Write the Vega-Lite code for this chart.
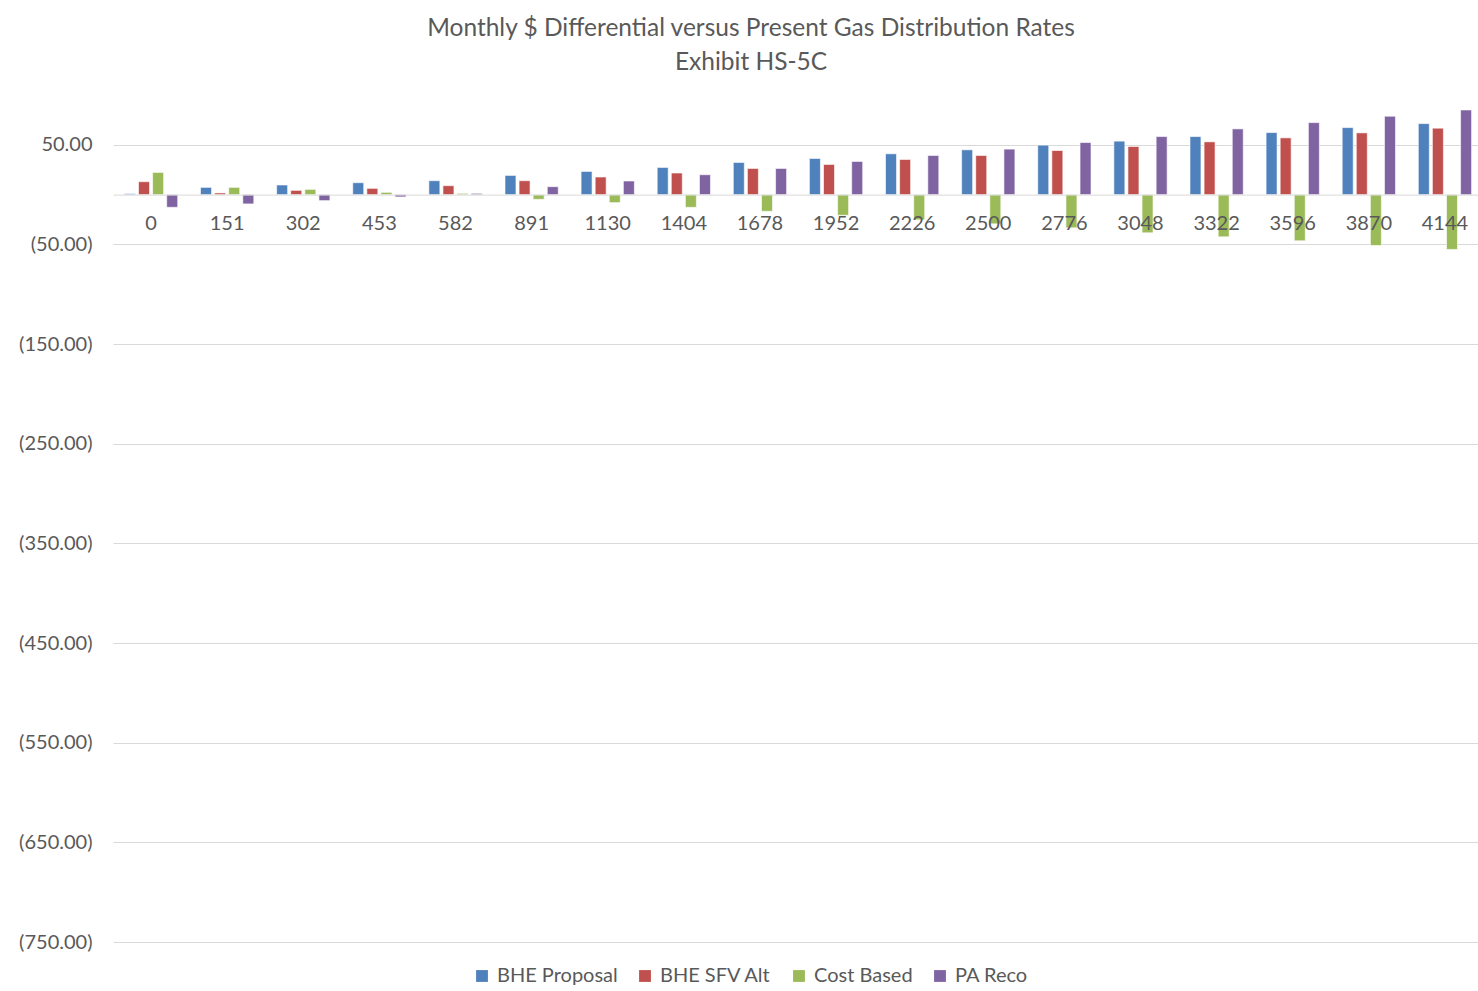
{
  "$schema": "https://vega.github.io/schema/vega-lite/v6.json",
  "autosize": "none",
  "padding": {"left": 113, "top": 95, "right": 0, "bottom": 49},
  "width": 1370,
  "height": 847,
  "background": "white",
  "title": {
    "text": ["Monthly $ Differential versus Present Gas Distribution Rates", "Exhibit HS-5C"],
    "font": "Lato",
    "fontSize": 24.5,
    "fontWeight": "normal",
    "color": "#595959",
    "anchor": "middle",
    "dx": -47,
    "offset": 20,
    "lineHeight": 34
  },
  "data": {
    "values": [
      {"usage": "0", "series": "BHE Proposal", "value": 1.0},
      {"usage": "0", "series": "BHE SFV Alt", "value": 13.0},
      {"usage": "0", "series": "Cost Based", "value": 22.3},
      {"usage": "0", "series": "PA Reco", "value": -12.7},
      {"usage": "151", "series": "BHE Proposal", "value": 7.3},
      {"usage": "151", "series": "BHE SFV Alt", "value": 1.7},
      {"usage": "151", "series": "Cost Based", "value": 7.3},
      {"usage": "151", "series": "PA Reco", "value": -9.3},
      {"usage": "302", "series": "BHE Proposal", "value": 9.7},
      {"usage": "302", "series": "BHE SFV Alt", "value": 4.3},
      {"usage": "302", "series": "Cost Based", "value": 5.3},
      {"usage": "302", "series": "PA Reco", "value": -6.0},
      {"usage": "453", "series": "BHE Proposal", "value": 12.0},
      {"usage": "453", "series": "BHE SFV Alt", "value": 6.3},
      {"usage": "453", "series": "Cost Based", "value": 2.3},
      {"usage": "453", "series": "PA Reco", "value": -2.3},
      {"usage": "582", "series": "BHE Proposal", "value": 14.0},
      {"usage": "582", "series": "BHE SFV Alt", "value": 9.0},
      {"usage": "582", "series": "Cost Based", "value": 1.3},
      {"usage": "582", "series": "PA Reco", "value": 1.3},
      {"usage": "891", "series": "BHE Proposal", "value": 19.3},
      {"usage": "891", "series": "BHE SFV Alt", "value": 14.0},
      {"usage": "891", "series": "Cost Based", "value": -4.7},
      {"usage": "891", "series": "PA Reco", "value": 8.0},
      {"usage": "1130", "series": "BHE Proposal", "value": 23.3},
      {"usage": "1130", "series": "BHE SFV Alt", "value": 17.7},
      {"usage": "1130", "series": "Cost Based", "value": -8.0},
      {"usage": "1130", "series": "PA Reco", "value": 13.7},
      {"usage": "1404", "series": "BHE Proposal", "value": 27.3},
      {"usage": "1404", "series": "BHE SFV Alt", "value": 21.7},
      {"usage": "1404", "series": "Cost Based", "value": -12.7},
      {"usage": "1404", "series": "PA Reco", "value": 20.0},
      {"usage": "1678", "series": "BHE Proposal", "value": 32.3},
      {"usage": "1678", "series": "BHE SFV Alt", "value": 26.3},
      {"usage": "1678", "series": "Cost Based", "value": -16.7},
      {"usage": "1678", "series": "PA Reco", "value": 26.3},
      {"usage": "1952", "series": "BHE Proposal", "value": 36.3},
      {"usage": "1952", "series": "BHE SFV Alt", "value": 30.3},
      {"usage": "1952", "series": "Cost Based", "value": -20.7},
      {"usage": "1952", "series": "PA Reco", "value": 33.3},
      {"usage": "2226", "series": "BHE Proposal", "value": 41.0},
      {"usage": "2226", "series": "BHE SFV Alt", "value": 35.3},
      {"usage": "2226", "series": "Cost Based", "value": -25.3},
      {"usage": "2226", "series": "PA Reco", "value": 39.3},
      {"usage": "2500", "series": "BHE Proposal", "value": 45.0},
      {"usage": "2500", "series": "BHE SFV Alt", "value": 39.3},
      {"usage": "2500", "series": "Cost Based", "value": -29.3},
      {"usage": "2500", "series": "PA Reco", "value": 45.7},
      {"usage": "2776", "series": "BHE Proposal", "value": 49.7},
      {"usage": "2776", "series": "BHE SFV Alt", "value": 44.3},
      {"usage": "2776", "series": "Cost Based", "value": -33.3},
      {"usage": "2776", "series": "PA Reco", "value": 52.3},
      {"usage": "3048", "series": "BHE Proposal", "value": 53.7},
      {"usage": "3048", "series": "BHE SFV Alt", "value": 48.3},
      {"usage": "3048", "series": "Cost Based", "value": -38.3},
      {"usage": "3048", "series": "PA Reco", "value": 58.3},
      {"usage": "3322", "series": "BHE Proposal", "value": 58.3},
      {"usage": "3322", "series": "BHE SFV Alt", "value": 53.0},
      {"usage": "3322", "series": "Cost Based", "value": -42.3},
      {"usage": "3322", "series": "PA Reco", "value": 66.0},
      {"usage": "3596", "series": "BHE Proposal", "value": 62.3},
      {"usage": "3596", "series": "BHE SFV Alt", "value": 57.0},
      {"usage": "3596", "series": "Cost Based", "value": -46.3},
      {"usage": "3596", "series": "PA Reco", "value": 72.3},
      {"usage": "3870", "series": "BHE Proposal", "value": 67.3},
      {"usage": "3870", "series": "BHE SFV Alt", "value": 62.0},
      {"usage": "3870", "series": "Cost Based", "value": -51.0},
      {"usage": "3870", "series": "PA Reco", "value": 78.7},
      {"usage": "4144", "series": "BHE Proposal", "value": 71.3},
      {"usage": "4144", "series": "BHE SFV Alt", "value": 66.7},
      {"usage": "4144", "series": "Cost Based", "value": -55.0},
      {"usage": "4144", "series": "PA Reco", "value": 85.0}
    ]
  },
  "mark": {"type": "bar", "stroke": "white", "strokeWidth": 0.6},
  "encoding": {
    "x": {
      "field": "usage",
      "type": "nominal",
      "sort": null,
      "scale": {"paddingInner": 0.3, "paddingOuter": 0.15},
      "axis": {
        "title": null,
        "labelAngle": 0,
        "offset": -747.4,
        "zindex": 1,
        "ticks": false,
        "domainColor": "#D9D9D9",
        "domainWidth": 1,
        "labelPadding": 19,
        "labelFont": "Lato",
        "labelFontSize": 20,
        "labelColor": "#595959"
      }
    },
    "xOffset": {
      "field": "series",
      "type": "nominal",
      "sort": ["BHE Proposal", "BHE SFV Alt", "Cost Based", "PA Reco"],
      "scale": {"paddingInner": 0.22}
    },
    "y": {
      "field": "value",
      "type": "quantitative",
      "scale": {"domain": [-750, 100], "nice": false, "zero": false},
      "axis": {
        "title": null,
        "values": [-750, -650, -550, -450, -350, -250, -150, -50, 50],
        "labelExpr": "datum.value < 0 ? '(' + format(-datum.value, ',.2f') + ')' : format(datum.value, ',.2f')",
        "domain": false,
        "ticks": false,
        "gridColor": "#D9D9D9",
        "gridWidth": 1,
        "labelPadding": 21,
        "labelFont": "Lato",
        "labelFontSize": 20,
        "labelColor": "#595959"
      }
    },
    "color": {
      "field": "series",
      "type": "nominal",
      "sort": ["BHE Proposal", "BHE SFV Alt", "Cost Based", "PA Reco"],
      "scale": {
        "domain": ["BHE Proposal", "BHE SFV Alt", "Cost Based", "PA Reco"],
        "range": ["#4F81BD", "#C0504D", "#9BBB59", "#8064A2"]
      },
      "legend": {
        "title": null,
        "orient": "none",
        "direction": "horizontal",
        "legendX": 359,
        "legendY": 871,
        "symbolType": "square",
        "symbolSize": 140,
        "symbolStrokeWidth": 0,
        "labelFont": "Lato",
        "labelFontSize": 20,
        "labelColor": "#595959",
        "labelOffset": 5,
        "columnPadding": 17
      }
    }
  },
  "config": {
    "view": {"stroke": null}
  }
}
